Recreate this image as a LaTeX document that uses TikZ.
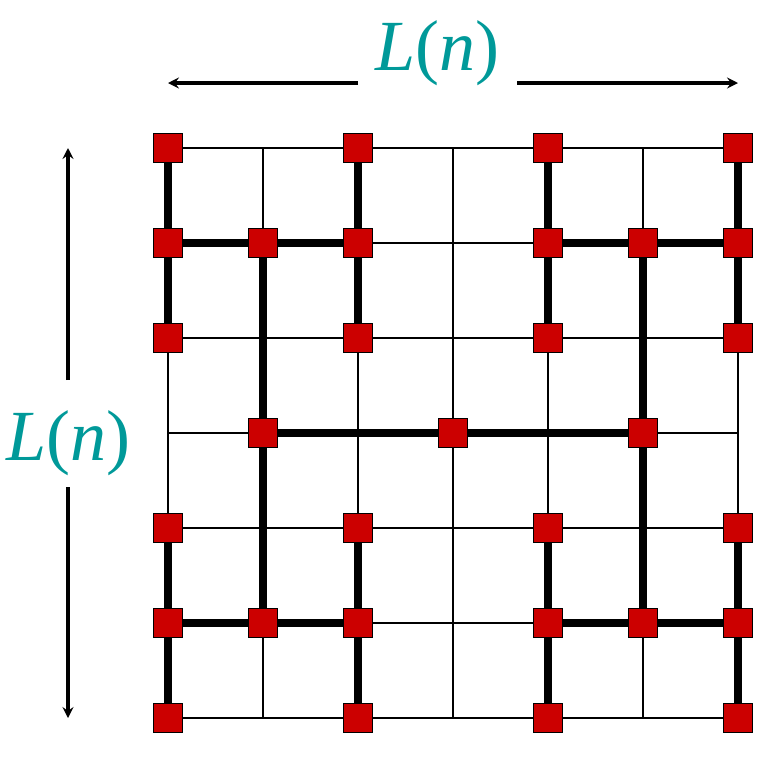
\documentclass[tikz,border=0pt]{standalone}
\usepackage{fontspec}
\setmainfont{Liberation Serif}
\usetikzlibrary{arrows.meta}
\definecolor{nodered}{HTML}{CC0000}
\definecolor{teallab}{HTML}{009999}
\tikzset{
  gridline/.style={line width=1.8pt, black},
  bond/.style={line width=8pt, black},
  site/.style={draw=black, line width=1.5pt, fill=nodered, minimum size=29pt, inner sep=0pt, rectangle},
  dimarrow/.style={line width=3.2pt, -{Stealth[length=11pt,width=11pt,inset=4pt]}},
  lab/.style={text=teallab, font=\fontsize{72}{80}\selectfont, inner sep=0pt}
}
\begin{document}
\begin{tikzpicture}[x=1pt,y=-1pt]
\useasboundingbox (0,0) rectangle (772,761);
% grid points
\foreach \c in {0,...,6}{
  \foreach \r in {0,...,6}{
    \coordinate (p\c\r) at ({168+95*\c},{148+95*\r});
  }
}
% thin grid
\foreach \i in {0,...,6}{
  \draw[gridline] (p0\i) -- (p6\i);
  \draw[gridline] (p\i0) -- (p\i6);
}
% thick bonds
\foreach \c in {0,2,4,6}{
  \draw[bond] (p\c0) -- (p\c2);
  \draw[bond] (p\c4) -- (p\c6);
}
\draw[bond] (p01) -- (p21);
\draw[bond] (p41) -- (p61);
\draw[bond] (p05) -- (p25);
\draw[bond] (p45) -- (p65);
\draw[bond] (p11) -- (p15);
\draw[bond] (p51) -- (p55);
\draw[bond] (p13) -- (p53);
% sites
\foreach \c/\r in {0/0,2/0,4/0,6/0,
                   0/1,1/1,2/1,4/1,5/1,6/1,
                   0/2,2/2,4/2,6/2,
                   1/3,3/3,5/3,
                   0/4,2/4,4/4,6/4,
                   0/5,1/5,2/5,4/5,5/5,6/5,
                   0/6,2/6,4/6,6/6}{
  \node[site] (s\c\r) at (p\c\r) {};
}
% labels
\node[lab, anchor=base] (ltop) at (437,70) {\textit{L}(\textit{n})};
\node[lab, anchor=base] (lleft) at (68,460) {\textit{L}(\textit{n})};
% dimension arrows
\coordinate (ta) at (358,83);
\coordinate (tb) at (517,83);
\coordinate (tl) at (168,83);
\coordinate (tr) at (738,83);
\draw[dimarrow] (ta) -- (tl);
\draw[dimarrow] (tb) -- (tr);
\coordinate (la) at (68,380);
\coordinate (lb) at (68,487);
\coordinate (lt) at (68,148);
\coordinate (lbot) at (68,718);
\draw[dimarrow] (la) -- (lt);
\draw[dimarrow] (lb) -- (lbot);
\end{tikzpicture}
\end{document}
